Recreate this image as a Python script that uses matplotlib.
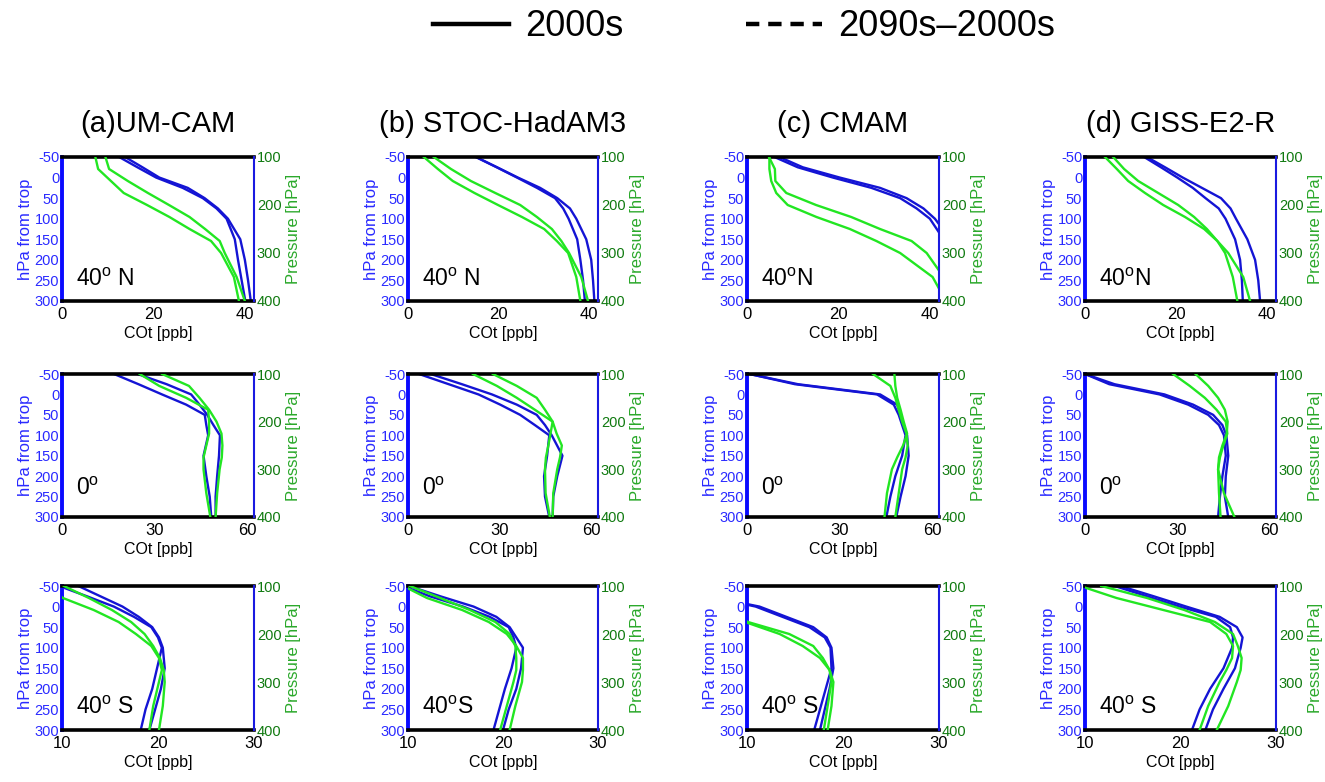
import matplotlib
matplotlib.use("Agg")
import matplotlib.pyplot as plt
from matplotlib.lines import Line2D

plt.rcParams["font.family"] = ["Liberation Sans", "DejaVu Sans"]
plt.rcParams["axes.unicode_minus"] = False

# vertical levels shared by every profile
blue_levels = [-50, -25, 0, 25, 50, 75, 100, 150, 200, 250, 300]    # hPa from trop
green_levels = [100, 125, 150, 175, 200, 225, 250, 275, 300, 350, 400]  # pressure

models = ["(a)UM-CAM", "(b) STOC-HadAM3", "(c) CMAM", "(d) GISS-E2-R"]
lat_labels = [
    ["40$^\\mathregular{o}$ N", "40$^\\mathregular{o}$ N", "40$^\\mathregular{o}$N", "40$^\\mathregular{o}$N"],
    ["0$^\\mathregular{o}$"] * 4,
    ["40$^\\mathregular{o}$ S", "40$^\\mathregular{o}$S", "40$^\\mathregular{o}$ S", "40$^\\mathregular{o}$ S"],
]
xlims = [(0, 42), (0, 62), (10, 30)]
xticks = [[0, 20, 40], [0, 30, 60], [10, 20, 30]]

# COt [ppb], two profiles per model (UM-CAM, STOC-HadAM3, CMAM, GISS-E2-R)
nh_blue = [
    [[13.8, 17.6, 21.3, 27.5, 31.2, 34.1, 36.3, 39.0, 40.0, 40.7, 41.3],
     [12.5, 16.5, 20.6, 26.4, 30.8, 33.8, 36.0, 37.8, 38.5, 39.3, 40.1]],
    [[15.0, 19.7, 24.3, 29.2, 33.0, 35.8, 37.2, 39.4, 40.5, 40.9, 41.2],
     [15.0, 19.6, 24.1, 28.5, 32.5, 34.3, 35.5, 37.4, 38.1, 38.7, 39.1]],
    [[7.1, 12.2, 20.3, 29.1, 34.9, 38.6, 41.1, 44.5, 46.5, 48.0, 49.0],
     [6.0, 11.1, 18.8, 27.2, 33.5, 37.1, 40.0, 43.0, 45.0, 46.5, 47.5]],
    [[13.6, 17.6, 21.5, 25.7, 29.9, 32.0, 33.2, 35.7, 37.4, 38.1, 38.5],
     [13.0, 16.7, 20.3, 23.7, 26.5, 29.4, 30.9, 33.0, 34.1, 34.5, 34.7]],
]
nh_green = [
    [[7.3, 7.9, 10.7, 13.5, 18.6, 23.5, 27.9, 32.6, 34.8, 37.6, 38.7],
     [9.5, 10.3, 14.4, 18.8, 23.4, 27.9, 31.3, 34.5, 35.6, 38.2, 40.0]],
    [[3.5, 6.6, 9.9, 14.7, 19.9, 25.2, 30.1, 32.9, 35.4, 37.2, 38.1],
     [5.7, 9.5, 13.9, 19.3, 24.8, 28.5, 31.8, 33.9, 35.6, 38.3, 39.8]],
    [[4.8, 6.1, 6.2, 8.6, 15.1, 22.8, 29.1, 36.0, 39.3, 43.0, 45.2],
     [4.9, 4.9, 5.3, 6.4, 8.9, 15.2, 22.5, 28.3, 33.5, 40.6, 43.5]],
    [[4.4, 7.0, 9.5, 13.2, 17.2, 22.0, 26.2, 29.1, 30.8, 32.5, 33.5],
     [6.2, 8.6, 11.7, 16.1, 20.5, 24.0, 26.8, 29.1, 31.5, 34.8, 36.3]],
]
eq_blue = [
    [[16.8, 24.7, 32.3, 40.1, 46.1, 46.6, 47.2, 45.7, 46.6, 47.7, 48.2],
     [24.4, 33.8, 41.7, 44.4, 46.9, 48.9, 51.0, 50.7, 50.1, 49.6, 49.6]],
    [[3.6, 13.3, 23.0, 30.1, 36.6, 41.4, 46.1, 45.4, 44.4, 44.7, 46.1],
     [7.4, 17.6, 27.4, 35.5, 42.0, 44.7, 46.9, 50.4, 48.7, 47.4, 47.2]],
    [[0.8, 15.5, 42.0, 47.4, 49.0, 50.1, 51.2, 50.1, 47.9, 46.3, 45.0],
     [0.8, 16.5, 43.0, 48.5, 49.6, 50.6, 51.7, 52.2, 51.2, 49.6, 48.2]],
    [[0.0, 7.9, 24.2, 33.5, 40.0, 43.5, 45.1, 45.7, 44.6, 43.8, 43.2],
     [0.0, 9.6, 25.8, 35.1, 41.6, 44.6, 45.9, 46.5, 45.7, 45.4, 46.5]],
]
eq_green = [
    [[25.1, 31.4, 40.1, 47.2, 47.5, 47.5, 46.6, 45.7, 45.7, 46.6, 47.9],
     [32.3, 41.0, 44.4, 47.5, 49.9, 51.5, 51.8, 51.6, 50.9, 50.1, 49.6]],
    [[21.2, 29.0, 35.5, 41.4, 47.2, 46.5, 45.8, 45.0, 44.7, 44.9, 46.3],
     [27.7, 35.5, 42.0, 44.7, 47.2, 48.5, 50.2, 49.6, 48.7, 47.4, 47.2]],
    [[40.7, 46.3, 47.9, 49.0, 50.1, 51.5, 51.9, 51.2, 50.1, 49.0, 47.9],
     [47.6, 47.9, 48.5, 49.6, 50.6, 51.7, 50.4, 48.5, 46.8, 45.2, 44.4]],
    [[28.6, 34.0, 38.9, 42.7, 45.7, 46.2, 44.9, 43.8, 43.2, 43.5, 44.0],
     [35.9, 40.0, 43.2, 45.4, 46.3, 46.0, 44.6, 43.5, 43.2, 45.1, 48.5]],
]
sh_blue = [
    [[11.7, 14.0, 16.3, 18.0, 19.4, 20.1, 20.5, 20.7, 20.3, 19.7, 19.1],
     [9.7, 12.6, 15.4, 17.5, 19.3, 20.0, 20.4, 19.9, 19.4, 18.7, 18.2]],
    [[10.1, 13.4, 16.9, 19.3, 20.7, 21.4, 22.1, 21.9, 21.4, 20.6, 20.0],
     [9.5, 12.3, 15.8, 18.6, 20.6, 21.1, 21.4, 20.9, 20.2, 19.6, 19.0]],
    [[2.0, 6.0, 11.3, 14.1, 16.9, 18.3, 18.8, 19.0, 18.6, 18.1, 17.6],
     [2.0, 6.0, 10.9, 13.7, 16.5, 18.1, 18.7, 18.8, 18.2, 17.6, 17.0]],
    [[13.7, 17.2, 20.6, 24.1, 25.9, 26.5, 26.3, 25.7, 24.5, 23.4, 22.6],
     [13.1, 16.5, 19.9, 23.7, 25.2, 25.5, 25.4, 24.5, 23.1, 22.0, 21.2]],
]
sh_green = [
    [[10.2, 12.8, 15.2, 17.2, 18.6, 19.5, 20.2, 20.6, 20.7, 20.5, 20.1],
     [8.5, 10.1, 13.3, 15.9, 17.7, 19.3, 20.1, 20.4, 20.1, 19.5, 19.1]],
    [[10.2, 13.4, 16.5, 19.2, 20.7, 21.3, 21.4, 21.4, 21.1, 20.4, 19.7],
     [9.5, 12.0, 15.7, 18.5, 20.4, 21.4, 22.1, 22.1, 22.0, 21.3, 20.7]],
    [[2.0, 5.0, 8.0, 10.1, 14.4, 16.9, 17.9, 18.6, 19.0, 18.8, 18.4],
     [2.0, 5.0, 7.5, 9.8, 13.4, 15.8, 17.6, 18.6, 18.8, 18.4, 18.0]],
    [[11.7, 16.5, 20.4, 23.6, 25.5, 26.0, 26.4, 26.3, 25.9, 25.0, 23.8],
     [9.5, 13.3, 18.2, 23.1, 24.8, 25.5, 25.4, 24.8, 24.1, 22.9, 22.0]],
]

blue_rows = [nh_blue, eq_blue, sh_blue]
green_rows = [nh_green, eq_green, sh_green]

BLUE = "#1414d4"
GREEN = "#22e622"
W, H = 1325, 782

# panel frames in pixels (left, right) and (top, bottom)
col_px = [(62, 254), (408, 598), (747, 939), (1085, 1276)]
row_px = [(157, 301), (374, 517), (586, 730)]
lat_y = [0.07, 0.12, 0.075]

fig = plt.figure(figsize=(W / 100, H / 100), dpi=100)

for r in range(3):
    for c in range(4):
        x0, x1 = col_px[c]
        y0, y1 = row_px[r]
        ax = fig.add_axes([x0 / W, 1 - y1 / H, (x1 - x0) / W, (y1 - y0) / H])
        ax2 = ax.twinx()

        for prof in blue_rows[r][c]:
            ax.plot(prof, blue_levels, color=BLUE, lw=1.7)
        for prof in green_rows[r][c]:
            ax2.plot(prof, green_levels, color=GREEN, lw=1.7)

        ax.set_xlim(*xlims[r])
        ax.set_xticks(xticks[r])
        ax.set_ylim(300, -50)
        ax.set_yticks(range(-50, 301, 50))
        ax2.set_ylim(400, 100)
        ax2.set_yticks([100, 200, 300, 400])

        ax.tick_params(axis="x", length=0, labelsize=12, pad=4)
        ax.tick_params(axis="y", length=0, labelsize=10.5, labelcolor="#2a2aff", pad=2)
        ax2.tick_params(axis="y", length=0, labelsize=10.5, labelcolor="#107a10", pad=2)

        for s in ["top", "bottom"]:
            ax.spines[s].set_linewidth(2.6)
            ax.spines[s].set_color("black")
            ax2.spines[s].set_visible(False)
        ax.spines["left"].set_color("#0a0aff")
        ax.spines["left"].set_linewidth(2.8)
        ax.spines["right"].set_visible(False)
        ax2.spines["left"].set_visible(False)
        ax2.spines["right"].set_color("#1a1ae0")
        ax2.spines["right"].set_linewidth(1.5)

        ax.set_ylabel("hPa from trop", color="#2a2aff", fontsize=12, labelpad=1)
        ax2.set_ylabel("Pressure [hPa]", color="#2aa82a", fontsize=12, labelpad=3)
        ax.set_xlabel("COt [ppb]", fontsize=11.5, labelpad=3)

        ax.text(0.075, lat_y[r], lat_labels[r][c], transform=ax.transAxes,
                fontsize=16.5, ha="left", va="bottom", zorder=5)

        if r == 0:
            ax.set_title(models[c], fontsize=21, pad=18)

handles = [Line2D([], [], color="black", lw=3.2),
           Line2D([], [], color="black", lw=3.2, ls=(0, (3, 2)))]
fig.legend(handles, ["2000s", "2090s\u20132000s"], loc="center",
           bbox_to_anchor=(0.5615, 1 - 27 / H), ncol=2, frameon=False,
           fontsize=26, handlelength=2.1, handletextpad=0.45, columnspacing=3.4)

fig.savefig("out.png", dpi=100)
